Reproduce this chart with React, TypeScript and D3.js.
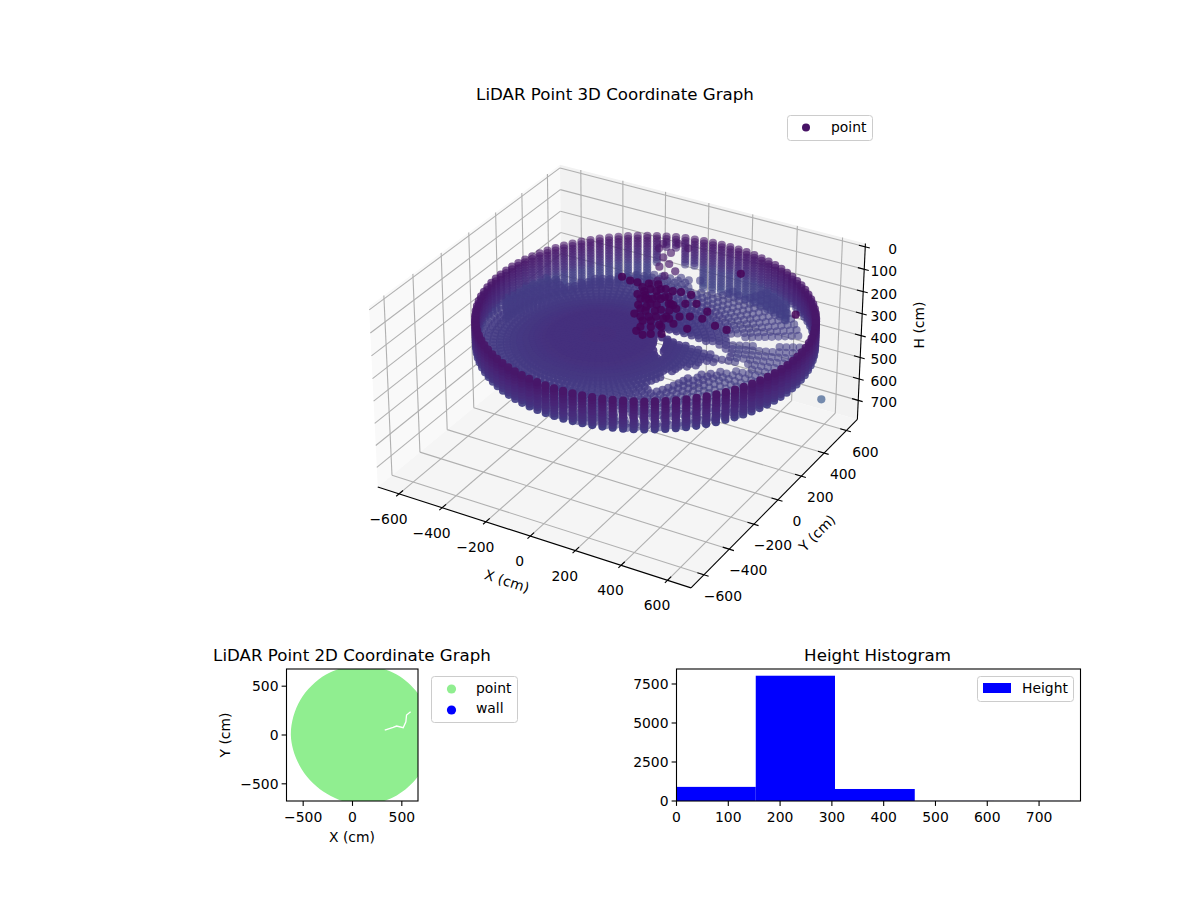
import React, { useEffect, useRef } from 'react'
import * as d3 from 'd3'

// tick labels
const xTicks3d = [-600, -400, -200, 0, 200, 400, 600]
const yTicks3d = [-600, -400, -200, 0, 200, 400, 600]
const hTicks3d = [0, 100, 200, 300, 400, 500, 600, 700]
const xTicks2d = [-500, 0, 500]
const yTicks2d = [-500, 0, 500]
const histXTicks = [0, 100, 200, 300, 400, 500, 600, 700]
const histYTicks = [0, 2500, 5000, 7500]

// histogram bins
const binEdges = [0, 153, 306, 460, 613, 767]
const binCounts = [905, 8030, 770, 6, 3]

const wallCentre = [90, 27]
const wallRadius = 660
const floorCentre = [-60, -70]
const wallAzimuths = [0, 3.4, 6.8, 10.2, 13.6, 17, 20.4, 23.8, 27.2, 30.6, 34, 37.4, 40.8, 44.2, 47.6, 51, 54.4, 57.8, 61.2, 64.6, 68, 71.4, 74.8, 78.2, 81.6, 85, 88.4, 91.8, 95.2, 98.6, 102, 105.4, 108.8, 112.2, 115.6, 119, 122.4, 125.8, 129.2, 132.6, 136, 139.4, 142.8, 146.2, 149.6, 153, 156.4, 159.8, 163.2, 166.6, 170, 173.4, 176.8, 180.2, 183.6, 187, 190.4, 193.8, 197.2, 200.6, 204, 207.4, 210.8, 214.2, 217.6, 221, 224.4, 227.8, 231.2, 234.6, 238, 241.4, 244.8, 248.2, 251.6, 255, 258.4, 261.8, 265.2, 268.6, 272, 275.4, 278.8, 282.2, 285.6, 289, 292.4, 295.8, 299.2, 302.6, 306, 309.4, 312.8, 316.2, 319.6, 323, 326.4, 329.8, 333.2, 336.6, 340, 343.4, 346.8, 350.2, 353.6, 357]
const wallRows = [150, 162, 174, 186, 198, 210, 222, 234, 246, 258, 270]
const backWallRows = [282, 294, 306, 318, 330, 342, 354, 366]
const floorRadii = [14, 28, 42, 56, 70, 84, 98, 112, 126, 140, 154, 168, 182, 196, 210, 226, 244, 264, 286, 310, 336, 362, 388, 414, 440, 466, 492, 518, 544, 570, 596, 622, 648, 674, 700, 726, 752, 778]
const floorH = [245, 245, 245, 245, 246, 246, 246, 247, 247, 247, 248, 248, 249, 249, 252, 254, 256, 258, 260, 262, 263, 264, 265, 265, 266, 266, 267, 267, 268, 268, 269, 269, 270, 270, 270, 270, 270, 270]
// streaks in the floor with no returns
const floorGaps: [number, number][][] = [
  [[105, 133], [259, 141], [418, 124], [436, 62], [291, 69], [122, 72]],
  [[363, 220], [482, 288], [636, 359], [667, 305], [517, 226], [394, 165]],
  [[112, 66], [148, 58], [222, -71], [198, -84]],
  [[268, -261], [290, -149], [367, -23], [508, 86], [536, 38], [402, -84], [335, -204], [302, -287]],
  [[-4, 541], [132, 620], [179, 539], [43, 460]],
]
const mastX = [51, 92, 91, 86, 93, 137, 169, 200, 144, 159, 212, 155, 212, 184, 246, 290, 234, 296, 130, 62, 15, 245, 297, 363, 441, 494, 324, 373, 297, 361, -60, -17, 330, 666, 58, 114, 118, 169, 165, 107, 188, 129, 200, 261, 254, 233, 225, 202, 238, 202, 178, 138, 74, 132, 120, 205, 142, 186, 244, 161, 211, 268, 249, 260, 264, 108, -135, -82, -57, -1, -5, -13, -140, -34, 17, -74, -86, -33]
const mastY = [70, 20, -16, 71, 121, 101, 100, 110, -31, 23, 8, -89, -109, -162, -89, -64, -187, -215, -84, 12, 94, 109, 57, 23, -59, -65, -44, -35, -124, -132, 104, 93, 357, 171, 108, 69, -1, -26, 44, -61, -123, -129, -207, -235, -158, -43, 3, -52, -257, -242, 52, 32, 45, 7, 91, 4, -59, -71, -109, -138, -147, -167, -16, 36, -98, -7, 533, 473, 397, 339, 291, 259, 575, 436, 394, 522, 606, 592]
const mastH = [60, 60, 60, 60, 60, 60, 60, 60, 60, 60, 60, 60, 60, 60, 60, 60, 60, 60, 60, 60, 60, 60, 60, 60, 60, 60, 60, 60, 60, 60, 60, 60, 60, 60, 60, 60, 60, 60, 60, 60, 60, 60, 60, 60, 60, 60, 60, 60, 60, 60, 60, 60, 60, 60, 60, 60, 60, 60, 60, 60, 60, 60, 60, 60, 60, 60, 150, 150, 150, 150, 150, 150, 150, 150, 150, 150, 150, 150]
const strayX = [640]
const strayY = [480]
const strayH = [600]

// outline of the 2d point cloud
const outlineX = [805, 709, 448, 90, -268, -529, -625, -515, -255, 90, 448, 709]
const outlineY = [0, 358, 619, 715, 619, 358, 0, -350, -605, -715, -619, -358]
const streakX = [327, 412, 447, 514, 541, 548, 589]
const streakY = [51, 79, 92, 75, 136, 205, 239]

const ink = '#000000'
const font = '"DejaVu Sans", sans-serif'

// 3d view
const halfXY = 0.595
const halfH = 0.343
const toBoxX = d3.scaleLinear().domain([-700, 700]).range([-halfXY, halfXY])
const toBoxY = d3.scaleLinear().domain([-700, 700]).range([-halfXY, halfXY])
const toBoxH = d3.scaleLinear().domain([790, -15]).range([-halfH, halfH])
const screenX = d3.scaleLinear().domain([0, 0.1]).range([622, 922])
const screenY = d3.scaleLinear().domain([0, 0.1]).range([365, 65])
const heightTone = d3.scaleLinear().domain([40, 150, 250, 270, 600]).range([0, 0.06, 0.14, 0.18, 0.27]).clamp(true)
const depthAlpha = d3.scaleLinear().domain([-0.55, 0.55]).range([0.5, 1]).clamp(true)
const floorAlpha = d3.scaleLinear().domain([200, 560]).range([0.95, 0.6]).clamp(true)

function view(x: number, y: number, h: number) {
  const bx = toBoxX(x)
  const by = toBoxY(y)
  const bz = toBoxH(h)
  const cx = 0.866 * bx + 0.5 * by
  const cy = -0.25 * bx + 0.433 * by + 0.866 * bz
  const depth = 0.433 * bx - 0.75 * by + 0.5 * bz
  const d = 10 - depth
  return { px: screenX(cx / d), py: screenY(cy / d), depth }
}

function buildCloud() {
  const pts: { x: number; y: number; h: number; alpha?: number }[] = []
  wallAzimuths.forEach((az, k) => {
    const a = (az * Math.PI) / 180
    const x = wallCentre[0] + wallRadius * Math.cos(a)
    const y = wallCentre[1] + wallRadius * Math.sin(a)
    wallRows.forEach(h => {
      if (az > 106 && az < 114 && h > 200) return
      pts.push({ x, y, h })
    })
    if (az > 60 && az < 180 && !(az > 100 && az < 118)) backWallRows.forEach(h => pts.push({ x, y, h }))
    floorRadii.forEach((r, i) => {
      const stride = Math.ceil(14 / (r * 0.0593))
      if (k % stride !== 0) return
      const fx = floorCentre[0] + r * Math.cos(a)
      const fy = floorCentre[1] + r * Math.sin(a)
      const off = Math.hypot(fx - wallCentre[0], fy - wallCentre[1])
      if (off > wallRadius - 4) return
      // the back wall shows its columns down to the floor
      const bearing = (Math.atan2(fy - wallCentre[1], fx - wallCentre[0]) * 180) / Math.PI
      if (bearing > 70 && bearing < 155 && off > wallRadius - 110) return
      if (floorGaps.some(g => d3.polygonContains(g, [fx, fy]))) return
      pts.push({ x: fx, y: fy, h: floorH[i], alpha: floorAlpha(r) })
    })
  })
  mastX.forEach((x, i) => pts.push({ x, y: mastY[i], h: mastH[i], alpha: mastH[i] < 100 ? 0.85 : undefined }))
  strayX.forEach((x, i) => pts.push({ x, y: strayY[i], h: strayH[i] }))
  return pts
}

function LineSeg(g: any, a: { px: number; py: number }, b: { px: number; py: number }, stroke: string, w: number) {
  g.append('line').attr('x1', a.px).attr('y1', a.py).attr('x2', b.px).attr('y2', b.py)
    .attr('stroke', stroke).attr('stroke-width', w)
}

function label(g: any, x: number, y: number, text: string, anchor = 'middle', size = 13.9, rotate = 0) {
  const t = g.append('text').attr('x', x).attr('y', y).attr('text-anchor', anchor)
    .attr('dominant-baseline', 'central').attr('font-size', size).attr('fill', ink).text(text)
  if (rotate) t.attr('transform', `rotate(${rotate} ${x} ${y})`)
  return t
}

const fmt = (v: number) => String(v).replace('-', '\u2212')

function draw3d(svg: any) {
  const g = svg.append('g')
  const [x0, x1, y0, y1, hb, ht] = [-700, 700, -700, 700, 790, -15]
  const poly = (c: number[][], fill: string) =>
    g.append('polygon').attr('points', c.map(p => { const v = view(p[0], p[1], p[2]); return `${v.px},${v.py}` }).join(' ')).attr('fill', fill)

  poly([[x0, y0, hb], [x0, y0, ht], [x0, y1, ht], [x0, y1, hb]], '#f9f9f9')
  poly([[x0, y1, hb], [x0, y1, ht], [x1, y1, ht], [x1, y1, hb]], '#f2f2f2')
  poly([[x0, y0, hb], [x1, y0, hb], [x1, y1, hb], [x0, y1, hb]], '#f5f5f5')

  const grid = '#b0b0b0'
  xTicks3d.forEach(t => {
    LineSeg(g, view(t, y0, hb), view(t, y1, hb), grid, 1.1)
    LineSeg(g, view(t, y1, hb), view(t, y1, ht), grid, 1.1)
  })
  yTicks3d.forEach(t => {
    LineSeg(g, view(x1, t, hb), view(x0, t, hb), grid, 1.1)
    LineSeg(g, view(x0, t, hb), view(x0, t, ht), grid, 1.1)
  })
  hTicks3d.forEach(t => {
    LineSeg(g, view(x0, y0, t), view(x0, y1, t), grid, 1.1)
    LineSeg(g, view(x0, y1, t), view(x1, y1, t), grid, 1.1)
  })

  // axis lines and ticks
  LineSeg(g, view(x0, y0, hb), view(x1, y0, hb), ink, 1.1)
  LineSeg(g, view(x1, y0, hb), view(x1, y1, hb), ink, 1.1)
  LineSeg(g, view(x1, y1, hb), view(x1, y1, ht), ink, 1.1)
  xTicks3d.forEach(t => {
    LineSeg(g, view(t, y0 - 20, hb), view(t, y0 + 28, hb), ink, 1.1)
    const p = view(t, y0, hb)
    label(g, p.px - 10.5, p.py + 25, fmt(t))
  })
  yTicks3d.forEach(t => {
    LineSeg(g, view(x1 - 28, t, hb), view(x1 + 20, t, hb), ink, 1.1)
    const p = view(x1, t, hb)
    label(g, p.px + 19, p.py + 21, fmt(t))
  })
  hTicks3d.forEach(t => {
    LineSeg(g, view(x1 - 28, y1, t), view(x1 + 20, y1, t), ink, 1.1)
    const p = view(x1, y1, t)
    label(g, 897, p.py + 2, fmt(t), 'end')
  })
  label(g, 507, 581, 'X (cm)', 'middle', 13.9, 18)
  label(g, 817, 533, 'Y (cm)', 'middle', 13.9, -45)
  label(g, 919, 325, 'H (cm)', 'middle', 13.9, -90)
  label(g, 615, 94.5, 'LiDAR Point 3D Coordinate Graph', 'middle', 16.67)

  // scan points, far ones first
  const cloud = buildCloud()
    .map(p => ({ ...p, ...view(p.x, p.y, p.h) }))
    .sort((a, b) => d3.ascending(a.depth, b.depth))
  g.append('g').selectAll('circle').data(cloud).join('circle')
    .attr('cx', (d: any) => d.px)
    .attr('cy', (d: any) => d.py)
    .attr('r', 4.1)
    .attr('fill', (d: any) => d3.interpolateViridis(heightTone(d.h)))
    .attr('fill-opacity', (d: any) => d.alpha ?? depthAlpha(d.depth))

  legendBox(svg, 787, 115, 85, 25)
  svg.append('circle').attr('cx', 806).attr('cy', 127.5).attr('r', 4).attr('fill', d3.interpolateViridis(0.05))
  label(svg, 831, 127, 'point', 'start')
}

function legendBox(svg: any, x: number, y: number, w: number, h: number) {
  svg.append('rect').attr('x', x + 0.5).attr('y', y + 0.5).attr('width', w).attr('height', h).attr('rx', 3)
    .attr('fill', '#ffffff').attr('fill-opacity', 0.8).attr('stroke', '#cccccc').attr('stroke-width', 1)
}

function frame(g: any, l: number, t: number, r: number, b: number) {
  g.append('rect').attr('x', l).attr('y', t).attr('width', r - l).attr('height', b - t)
    .attr('fill', 'none').attr('stroke', ink).attr('stroke-width', 1.1)
}

function draw2d(svg: any) {
  const g = svg.append('g')
  const [l, r, t, b] = [286.5, 418, 669, 801]
  const x = d3.scaleLinear().domain([-669, 664]).range([l, r])
  const y = d3.scaleLinear().domain([-676, 676]).range([b, t])
  svg.append('clipPath').attr('id', 'clip2d').append('rect').attr('x', l).attr('y', t).attr('width', r - l).attr('height', b - t)
  const outline = d3.line<number>().x(i => x(outlineX[i])).y(i => y(outlineY[i])).curve(d3.curveCatmullRomClosed)
  g.append('path').attr('d', outline(d3.range(outlineX.length))).attr('fill', '#90ee90').attr('clip-path', 'url(#clip2d)')
  const streak = d3.line<number>().x(i => x(streakX[i])).y(i => y(streakY[i]))
  g.append('path').attr('d', streak(d3.range(streakX.length))).attr('fill', 'none').attr('stroke', '#ffffff').attr('stroke-width', 1.3)
  frame(g, l, t, r, b)
  xTicks2d.forEach(v => {
    g.append('line').attr('x1', x(v)).attr('x2', x(v)).attr('y1', b).attr('y2', b + 4.9).attr('stroke', ink).attr('stroke-width', 1.1)
    label(g, x(v), b + 16, fmt(v))
  })
  yTicks2d.forEach(v => {
    g.append('line').attr('x1', l).attr('x2', l - 4.9).attr('y1', y(v)).attr('y2', y(v)).attr('stroke', ink).attr('stroke-width', 1.1)
    label(g, l - 8, y(v), fmt(v), 'end')
  })
  label(g, 352, 837, 'X (cm)')
  label(g, 225, 735, 'Y (cm)', 'middle', 13.9, -90)
  label(g, 352, 655.5, 'LiDAR Point 2D Coordinate Graph', 'middle', 16.67)
  legendBox(g, 431, 676, 86, 46)
  g.append('circle').attr('cx', 451.5).attr('cy', 689).attr('r', 4.6).attr('fill', '#90ee90')
  g.append('circle').attr('cx', 451.5).attr('cy', 710).attr('r', 4.6).attr('fill', '#0000ff')
  label(g, 476, 688, 'point', 'start')
  label(g, 476, 708, 'wall', 'start')
}

function drawHist(svg: any) {
  const g = svg.append('g')
  const [l, r, t, b] = [676.5, 1080.5, 669, 801]
  const x = d3.scaleLinear().domain([0, 780]).range([l, r])
  const y = d3.scaleLinear().domain([0, 8461]).range([b, t])
  g.selectAll('.bin').data(binCounts).join('rect').attr('class', 'bin')
    .attr('x', (_: number, i: number) => x(binEdges[i]))
    .attr('width', (_: number, i: number) => x(binEdges[i + 1]) - x(binEdges[i]))
    .attr('y', (d: number) => y(d))
    .attr('height', (d: number) => y(0) - y(d))
    .attr('fill', '#0000ff')
  frame(g, l, t, r, b)
  histXTicks.forEach(v => {
    g.append('line').attr('x1', x(v)).attr('x2', x(v)).attr('y1', b).attr('y2', b + 4.9).attr('stroke', ink).attr('stroke-width', 1.1)
    label(g, x(v), b + 16, fmt(v))
  })
  histYTicks.forEach(v => {
    g.append('line').attr('x1', l).attr('x2', l - 4.9).attr('y1', y(v)).attr('y2', y(v)).attr('stroke', ink).attr('stroke-width', 1.1)
    label(g, l - 8, y(v), fmt(v), 'end')
  })
  label(g, 877.5, 655.5, 'Height Histogram', 'middle', 16.67)
  legendBox(g, 977, 676, 96, 25)
  g.append('rect').attr('x', 983).attr('y', 683).attr('width', 28).attr('height', 10).attr('fill', '#0000ff')
  label(g, 1022, 688, 'Height', 'start')
}

const App: React.FC = () => {
  const svgRef = useRef<SVGSVGElement>(null)

  useEffect(() => {
    const svg = d3.select(svgRef.current)
    svg.selectAll('*').remove()
    draw3d(svg)
    draw2d(svg)
    drawHist(svg)
  }, [])

  return (
    <svg
      ref={svgRef}
      width={1200}
      height={900}
      style={{ position: 'absolute', left: 0, top: 0, background: '#fff', fontFamily: font }}
    />
  )
}

export default App
